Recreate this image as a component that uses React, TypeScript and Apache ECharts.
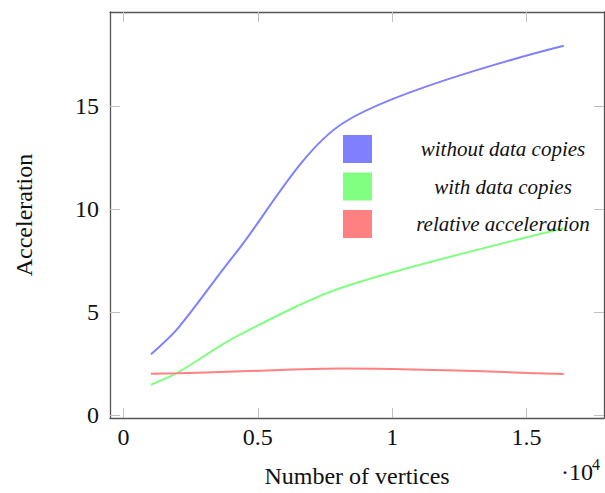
import React, { useEffect, useRef } from "react";
import * as echarts from "echarts";

// Number of vertices (plotted in units of 10^4)
const vertices = [1024, 2048, 4096, 8192, 16384];
const withoutCopies = [2.95, 4.25, 7.73, 14.2, 17.94];
const withCopies = [1.47, 2.08, 3.74, 6.22, 9.07];
const relativeAcceleration = [2.0, 2.03, 2.11, 2.26, 1.99];

const xTicks = [0, 0.5, 1, 1.5];
const yTicks = [0, 5, 10, 15];
const seriesNames = ["without data copies", "with data copies", "relative acceleration"];
const seriesColors = ["#8080ff", "#80ff80", "#ff8080"];
const xScale = 1e4;

const FONT = "'Liberation Serif', 'DejaVu Serif', serif";

export default function App() {
  const ref = useRef<HTMLDivElement>(null);

  useEffect(() => {
    if (!ref.current) return;
    const chart = echarts.init(ref.current, undefined, { renderer: "svg" });
    const seriesData = [withoutCopies, withCopies, relativeAcceleration];

    const frameLine = { show: true, lineStyle: { color: "#555", width: 1.3 } };
    const tickStyle = { color: "#c0c0c0", width: 1 };

    chart.setOption({
      animation: false,
      backgroundColor: "#fff",
      grid: { left: 110, right: 1, top: 12, bottom: 72, containLabel: false },
      xAxis: [
        {
          type: "value",
          position: "bottom",
          min: -0.05,
          max: 1.788,
          axisLine: { ...frameLine, onZero: false },
          axisTick: { show: true, inside: true, length: 10, lineStyle: tickStyle, customValues: xTicks },
          axisLabel: {
            show: true,
            customValues: xTicks,
            margin: 7,
            formatter: (v: number) => String(v),
            fontFamily: FONT,
            fontSize: 24,
            color: "#111",
          },
          splitLine: { show: false },
          name: "Number of vertices",
          nameLocation: "middle",
          nameGap: 46,
          nameTextStyle: { fontFamily: FONT, fontSize: 24, color: "#111" },
        },
        {
          type: "value",
          position: "top",
          min: -0.05,
          max: 1.788,
          axisLine: { ...frameLine, onZero: false },
          axisTick: { show: true, inside: true, length: 10, lineStyle: tickStyle, customValues: xTicks },
          axisLabel: { show: false },
          splitLine: { show: false },
        },
      ],
      yAxis: [
        {
          type: "value",
          position: "left",
          min: -0.145,
          max: 19.58,
          axisLine: { ...frameLine, onZero: false },
          axisTick: { show: true, inside: true, length: 10, lineStyle: tickStyle, customValues: yTicks },
          axisLabel: {
            show: true,
            customValues: yTicks,
            margin: 11,
            formatter: (v: number) => String(v),
            fontFamily: FONT,
            fontSize: 24,
            color: "#111",
          },
          splitLine: { show: false },
          name: "Acceleration",
          nameLocation: "middle",
          nameGap: 74,
          nameTextStyle: { fontFamily: FONT, fontSize: 24, color: "#111" },
        },
        {
          type: "value",
          position: "right",
          min: -0.145,
          max: 19.58,
          axisLine: { ...frameLine, onZero: false },
          axisTick: { show: true, inside: true, length: 10, lineStyle: tickStyle, customValues: yTicks },
          axisLabel: { show: false },
          splitLine: { show: false },
        },
      ],
      legend: {
        orient: "vertical",
        left: 338,
        top: 130,
        itemWidth: 29,
        itemHeight: 28,
        itemGap: 9.5,
        icon: "rect",
        data: seriesNames,
        formatter: (n: string) => `{t|${n}}`,
        textStyle: {
          rich: {
            t: {
              width: 252,
              align: "center",
              fontFamily: FONT,
              fontStyle: "italic",
              fontSize: 21,
              color: "#111",
            },
          },
        },
      },
      graphic: [
        {
          type: "text",
          left: 561,
          top: 460,
          style: { text: "·10", fontFamily: FONT, fontSize: 24, fill: "#111" },
        },
        {
          type: "text",
          left: 592,
          top: 456,
          style: { text: "4", fontFamily: FONT, fontSize: 16, fill: "#111" },
        },
      ],
      series: seriesNames.map((name, i) => ({
        name,
        type: "line",
        xAxisIndex: 0,
        yAxisIndex: 0,
        smooth: 0.3,
        showSymbol: false,
        symbol: "none",
        color: seriesColors[i],
        lineStyle: { color: seriesColors[i], width: 2 },
        itemStyle: { color: seriesColors[i] },
        data: vertices.map((v, j) => [v / xScale, seriesData[i][j]]),
      })),
    });

    return () => chart.dispose();
  }, []);

  return <div ref={ref} style={{ width: 605, height: 493, position: "absolute", left: 0, top: 0 }} />;
}
